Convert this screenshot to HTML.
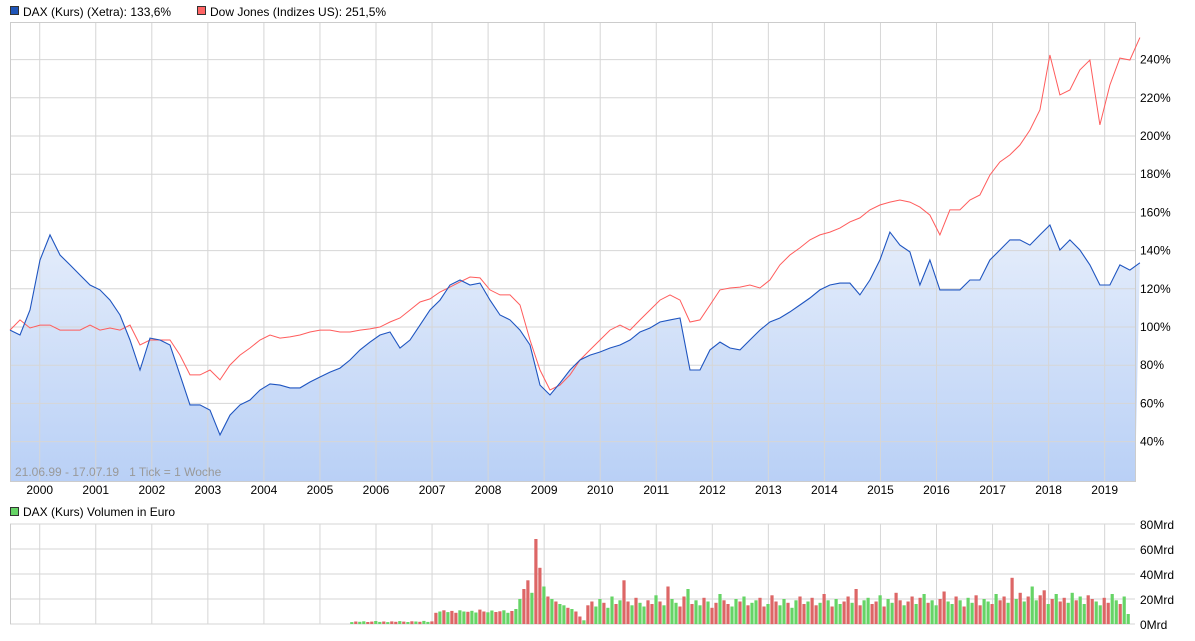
<!DOCTYPE html>
<html><head><meta charset="utf-8"><style>
body{margin:0;background:#fff;font-family:"Liberation Sans",sans-serif}
svg text{font-family:"Liberation Sans",sans-serif;font-size:12px;fill:#000;white-space:pre}
</style></head><body>
<svg id="c" width="1195" height="636" xmlns="http://www.w3.org/2000/svg">
<defs><linearGradient id="g" x1="0" y1="0" x2="0" y2="1"><stop offset="0" stop-color="#e6eefb"/><stop offset="1" stop-color="#b9d0f6"/></linearGradient></defs>
<g>
<rect x="10.5" y="6.5" width="8" height="8" fill="#1f55b8" stroke="#333"/>
<text x="23" y="16">DAX (Kurs) (Xetra): 133,6%</text>
<rect x="197.5" y="6.5" width="8" height="8" fill="#ff6464" stroke="#333"/>
<text x="210" y="16">Dow Jones (Indizes US): 251,5%</text>
</g>
<g id="main"></g>
<text x="15" y="476" xml:space="preserve" style="fill:#999">21.06.99 - 17.07.19   1 Tick = 1 Woche</text>
<g>
<rect x="10.5" y="507.5" width="8" height="8" fill="#66d466" stroke="#333"/>
<text x="23" y="516">DAX (Kurs) Volumen in Euro</text>
</g>
<g id="vol"></g>
</svg>
<script>
const years=[2000,2001,2002,2003,2004,2005,2006,2007,2008,2009,2010,2011,2012,2013,2014,2015,2016,2017,2018,2019];
const yTicks=[40,60,80,100,120,140,160,180,200,220,240];
const volTicks=[0,20,40,60,80];
const dateStart=1999.47, dateStep=0.1784;
const daxValues=[98.4,95.8,108.9,135.1,148.2,137.7,132.5,127.2,122,119.4,114.1,106.3,93.2,77.5,94.2,93.2,90.6,74.9,59.2,59.2,56.5,43.5,53.9,59.2,61.8,67,70.2,69.6,68.1,68.1,71.2,73.8,76.4,78.5,82.7,88,92.1,95.8,97.4,89,93.2,101,108.9,114.1,122,124.6,122,123,114.1,106.3,103.7,98.4,90.6,69.6,64.4,70.7,77.5,82.7,85.3,86.9,89,90.6,93.2,97.4,99.5,102.6,103.7,104.7,77.5,77.5,88,92.1,89,88,93.2,98.4,102.6,104.7,107.9,111.5,115.2,119.4,122,123,123,116.8,124.6,135.1,149.7,142.9,139.3,122,135.1,119.4,119.4,119.4,124.6,124.6,135.1,140.3,145.6,145.6,142.9,148.2,153.4,140.3,145.6,140.3,132.5,122,122,132.5,129.8,133.6];
const dowValues=[98.4,103.7,99.5,101,101,98.4,98.4,98.4,101,98.4,99.5,98.4,101,90.6,93.2,93.2,93.2,85.3,74.9,74.9,77.5,72.3,80.1,85.3,89,93.2,95.8,94.2,94.8,95.8,97.4,98.4,98.4,97.4,97.4,98.4,99,100,102.6,104.7,108.9,113.1,114.7,118.3,120.9,123.6,126.2,125.7,119.4,116.8,116.8,111.5,93.2,77.5,67,69.6,74.9,82.7,88,93.2,98.4,101,98.4,103.7,108.9,114.1,116.8,114.1,102.6,103.7,111.5,119.4,120.4,120.9,122,120.4,124.6,132.5,137.7,141.4,145.6,148.2,149.7,151.8,155,157.1,161.3,163.9,165.4,166.5,165.4,162.8,158.6,148.2,161.3,161.3,166.5,169.1,179.6,186.4,190.1,195.3,203.1,213.6,242.4,221.5,224.1,234.6,239.8,205.8,226.7,240.8,239.8,251.5];
const volStart=2005.54, volStep=0.0714;
const volValues=[1.5,2,1.8,2.2,1.6,1.9,2.4,1.7,2,1.5,2.1,1.8,2.3,1.9,1.6,2.2,2,1.8,2.5,1.7,2.1,
9,10,11,9.5,10.5,9,11,10,9.8,10.6,9.2,11.5,10,9.4,10.8,9.6,10.2,11,9,10.4,12,
20,28,35,25,68,45,30,22,
20,18,16,15,13,12,10,6,3,
15,18,14,20,17,13,22,16,19,35,18,15,21,17,14,19,16,23,18,15,30,20,17,14,22,28,16,19,15,21,18,13,17,24,19,16,14,20,18,22,15,17,19,21,14,16,23,18,15,20,17,13,19,22,16,18,21,15,17,24,19,14,20,16,18,22,17,28,15,19,21,16,18,23,14,20,17,25,19,15,18,22,16,21,24,17,19,15,20,26,18,16,22,19,14,21,17,23,15,20,18,16,24,19,22,17,37,20,25,18,22,30,19,23,27,16,20,24,18,21,17,25,19,22,16,23,20,18,15,21,17,24,19,16,22,8];
const volDir="uduudduududdudududuuddududduuduudduudduuduudduddududuududdudduuduududduduuddududuudduduududdudduududuuddudduuduudduddududuuddudduudduduudduddududuudduud".split('');
const NS="http://www.w3.org/2000/svg";
const X0=10,X1=1135;
function xs(yr){return X0+(yr-dateStart)*56.05;}
function ys(p){return 327-(p-100)*1.91;}
function yv(v){return 624-v*1.25;}
function mk(tag,attrs,parent){const e=document.createElementNS(NS,tag);for(const k in attrs)e.setAttribute(k,attrs[k]);parent.appendChild(e);return e;}
const main=document.getElementById('main'),vol=document.getElementById('vol');
let bg=mk('rect',{x:X0,y:22,width:X1-X0,height:459,fill:'#fff'},main);


let pts=daxValues.map((v,i)=>xs(dateStart+i*dateStep).toFixed(1)+','+ys(v).toFixed(1));
let lastX=Math.min(X1,xs(dateStart+(daxValues.length-1)*dateStep));
let area=mk('polygon',{points:X0+',481 '+pts.join(' ')+' '+lastX.toFixed(1)+',481',fill:'url(#g)'},main);


yTicks.forEach(t=>{const y=ys(t);
 let l=mk('line',{x1:X0,x2:X1,y1:y,y2:y,stroke:'#d6d6d6','stroke-width':1},main);
 
 
 let tx=mk('text',{x:1140,y:y+4},main);tx.textContent=t+'%';
 
 
});
years.forEach(yr=>{const x=xs(yr);
 let l=mk('line',{x1:x,x2:x,y1:22,y2:481,stroke:'#d6d6d6'},main);
 
 
 let tx=mk('text',{x:x,y:494,'text-anchor':'middle'},main);tx.textContent=yr;
 
 
 let l2=mk('line',{x1:x,x2:x,y1:524,y2:624,stroke:'#d6d6d6'},vol);
 
 
});
let fr=mk('rect',{x:X0+.5,y:22.5,width:X1-X0,height:459,fill:'none',stroke:'#ccc'},main);


let dow=mk('polyline',{points:dowValues.map((v,i)=>xs(dateStart+i*dateStep).toFixed(1)+','+ys(v).toFixed(1)).join(' '),fill:'none',stroke:'#ff5c5c','stroke-width':1},main);


let dax=mk('polyline',{points:pts.join(' '),fill:'none',stroke:'#1f55c0','stroke-width':1.1},main);


volTicks.forEach(t=>{const y=yv(t);
 let l=mk('line',{x1:X0,x2:X1,y1:y,y2:y,stroke:'#d6d6d6'},vol);
 
 
 let tx=mk('text',{x:1140,y:y+5},vol);tx.textContent=t+'Mrd';
 
 
});
let vf=mk('line',{x1:X0+.5,x2:X0+.5,y1:524,y2:624,stroke:'#ccc'},vol);


volValues.forEach((v,i)=>{const x=xs(volStart+i*volStep);if(x>X1)return;
 let r=mk('rect',{x:x.toFixed(1),y:yv(v).toFixed(1),width:3.2,height:(v*1.25).toFixed(1),fill:volDir[i%volDir.length]==='u'?'#66d466':'#dd6666'},vol);
 
 
});
</script>
</body></html>
